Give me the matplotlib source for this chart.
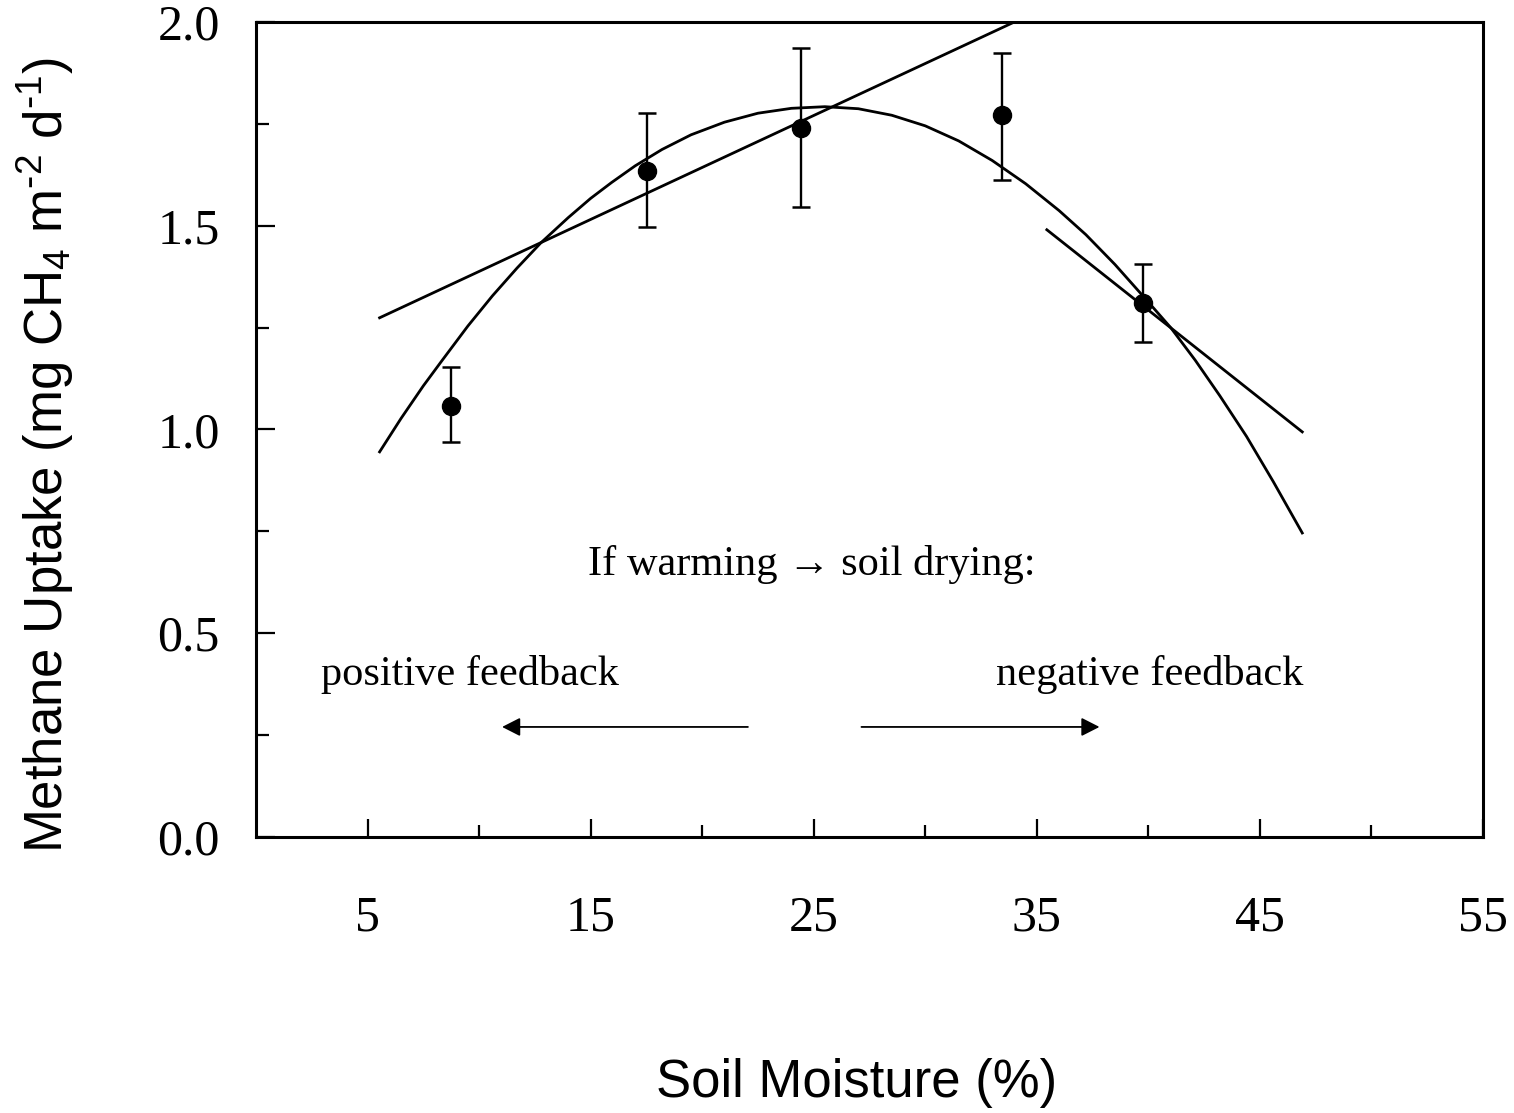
import numpy as np
import matplotlib
matplotlib.use("Agg")
import matplotlib.pyplot as plt

# measured points (soil moisture %, methane uptake) with error bar bounds
moisture = [8.74, 17.51, 24.43, 33.44, 39.76]
uptake = [1.058, 1.633, 1.739, 1.772, 1.310]
err_lo = [0.970, 1.496, 1.545, 1.612, 1.214]
err_hi = [1.153, 1.776, 1.935, 1.924, 1.405]

# quadratic fit curve
fit_x = [5.54, 6.5, 7.5, 8.35, 9.5, 10.6, 11.7, 12.77, 14.0, 15.0, 15.94,
         17.0, 18.2, 19.5, 21.0, 22.5, 24.0, 25.5, 27.0, 28.5, 30.0, 31.5,
         33.0, 34.5, 36.0, 37.2, 38.5, 39.8, 41.0, 42.1, 43.2, 44.4, 45.6, 46.9]
fit_y = [0.945, 1.027, 1.107, 1.170, 1.254, 1.328, 1.396, 1.458, 1.520, 1.567, 1.606,
         1.647, 1.687, 1.723, 1.754, 1.776, 1.788, 1.792, 1.787, 1.771, 1.745, 1.708,
         1.660, 1.603, 1.537, 1.478, 1.405, 1.325, 1.250, 1.170, 1.083, 0.983, 0.872, 0.746]

# linear tangents (dry side and wet side)
dry_x = [5.54, 34.0]
dry_y = [1.274, 2.0]
wet_x = [35.45, 46.9]
wet_y = [1.490, 0.994]

xticks_major = [5, 15, 25, 35, 45, 55]
xticks_minor = [10, 20, 30, 40, 50]
yticks_major = [0.0, 0.5, 1.0, 1.5, 2.0]
yticks_minor = [0.25, 0.75, 1.25, 1.75]

plt.rcParams['mathtext.default'] = 'regular'

fig = plt.figure(figsize=(15.14, 11.13), dpi=100)
ax = fig.add_axes([0.1691, 0.2480, 0.8104, 0.7323])

ax.plot(fit_x, fit_y, color='black', lw=2.0, solid_joinstyle='round')
ax.plot(dry_x, dry_y, color='black', lw=2.0)
ax.plot(wet_x, wet_y, color='black', lw=2.0)

yerr = [np.array(uptake) - np.array(err_lo), np.array(err_hi) - np.array(uptake)]
ax.errorbar(moisture, uptake, yerr=yerr, fmt='o', color='black', ms=13,
            elinewidth=1.7, capsize=6.8, capthick=1.8)

ax.set_xlim(0, 55)
ax.set_ylim(0, 2.0)

ax.set_xticks(xticks_major)
ax.set_xticks(xticks_minor, minor=True)
ax.set_yticks(yticks_major)
ax.set_yticks(yticks_minor, minor=True)
ax.set_xticklabels([str(v) for v in xticks_major])
ax.set_yticklabels([f"{v:.1f}" for v in yticks_major])

for lab in ax.get_xticklabels() + ax.get_yticklabels():
    lab.set_fontfamily('Liberation Serif')
    lab.set_fontsize(36)

ax.tick_params(axis='x', which='major', direction='in', length=13, width=1.6, pad=42)
ax.tick_params(axis='x', which='minor', direction='in', length=9, width=1.6)
ax.tick_params(axis='y', which='major', direction='in', length=13.5, width=1.6, pad=26)
ax.tick_params(axis='y', which='minor', direction='in', length=9.5, width=1.6)

for s in ax.spines.values():
    s.set_linewidth(2.2)

ax.set_xlabel("Soil Moisture (%)", fontsize=38, family='Liberation Sans', va='center')
ax.xaxis.set_label_coords(0.4898, -0.302)
ax.set_ylabel(r"Methane Uptake (mg CH$_4$ m$^{\text{-}2}$ d$^{\text{-}1}$)", fontsize=38,
              family='Liberation Sans', va='center')
ax.yaxis.set_label_coords(-0.172, 0.469)

serif = ['Liberation Serif', 'DejaVu Serif']
ax.text(24.9, 0.643, "If warming \u2192 soil drying:", fontsize=30.5, family=serif,
        ha='center', va='baseline')
ax.text(9.6, 0.373, "positive feedback", fontsize=30.5, family=serif,
        ha='center', va='baseline')
ax.text(40.05, 0.373, "negative feedback", fontsize=30.5, family=serif,
        ha='center', va='baseline')

arrow = dict(arrowstyle='-|>,head_length=0.55,head_width=0.28', color='black',
             lw=1.3, mutation_scale=20, shrinkA=0, shrinkB=0)
ax.annotate("", xy=(11.03, 0.27), xytext=(22.05, 0.27), arrowprops=arrow)
ax.annotate("", xy=(37.81, 0.27), xytext=(27.14, 0.27), arrowprops=arrow)

fig.savefig("out.png", dpi=100)
